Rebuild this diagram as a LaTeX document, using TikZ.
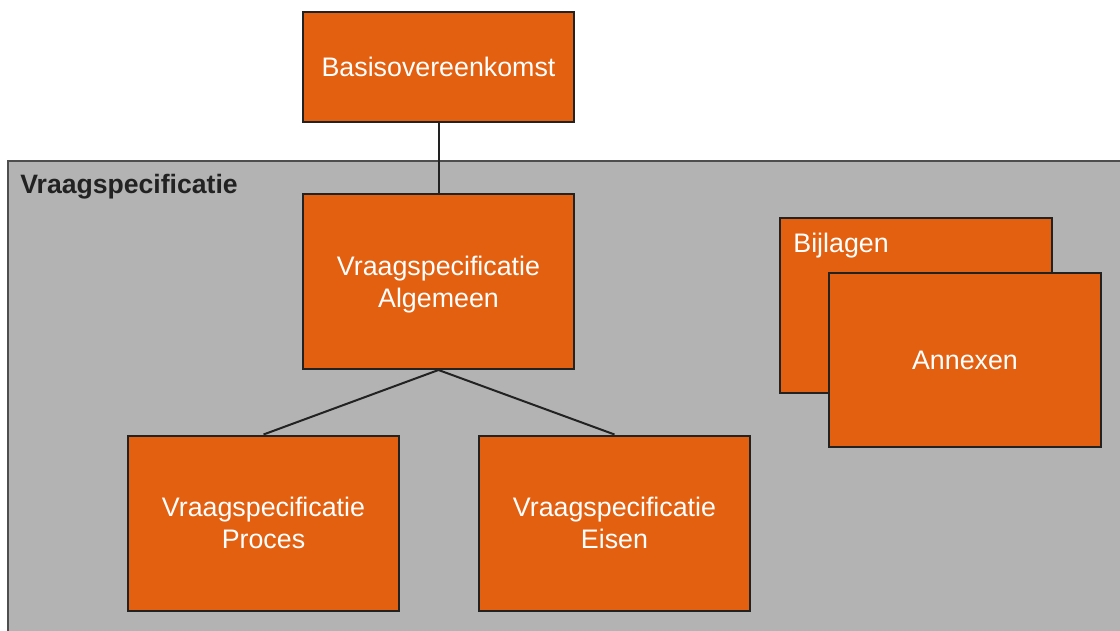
\documentclass[tikz,border=0pt]{standalone}
\usepackage{fontspec}
\setmainfont{Liberation Sans}
\definecolor{docorange}{HTML}{E36010}
\definecolor{framegray}{HTML}{B3B3B3}
\definecolor{edgedark}{HTML}{222222}
\begin{document}
\begin{tikzpicture}[x=0.5pt,y=-0.5pt,
		docbox/.style={draw=edgedark,line width=1pt,fill=docorange,text=white,
			minimum width=135.5pt,minimum height=87.5pt,align=center,
			font=\fontsize{13.4}{16}\selectfont,inner sep=0pt,text depth=0pt},
		link/.style={draw=edgedark,line width=1pt}]
			\useasboundingbox (0,0) rectangle (1120,631);
			\clip (0,0) rectangle (1120,631);

			% Grey area
			\draw[draw=edgedark!80,line width=1pt,fill=framegray] (8,161) rectangle (1140,650);
			\node[anchor=base west,text=edgedark,font=\fontsize{13.3}{16}\selectfont\bfseries,inner sep=0pt] (vslabel) at (20,193) {Vraagspecificatie};

			% Documents
			\node[docbox,minimum height=55pt] (basis) at (438.5,67) {Basisovereenkomst};
			\node[docbox] (algemeen) at (438.5,281.5) {Vraagspecificatie\\Algemeen};
			\node[docbox] (proces) at (263.5,523) {Vraagspecificatie\\Proces};
			\node[docbox] (eisen) at (614.5,523) {Vraagspecificatie\\Eisen};

			% Attachments
			\node[docbox,minimum width=136pt] (bijlagen) at (916,305.5) {};
			\node[anchor=base west,text=white,font=\fontsize{13.4}{16}\selectfont,inner sep=0pt] (bijlagentext) at (793,252) {Bijlagen};
			\node[docbox,minimum width=136pt,minimum height=87pt] (annexen) at (965,360) {Annexen};

			% Connections
			\draw[link] (basis.south) -- (algemeen.north);
			\draw[link] (algemeen.south) -- (proces.north);
			\draw[link] (algemeen.south) -- (eisen.north);
		\end{tikzpicture}
\end{document}
